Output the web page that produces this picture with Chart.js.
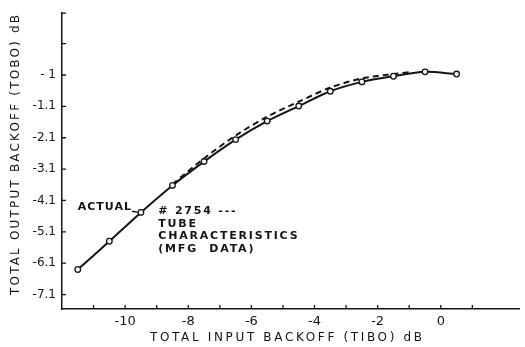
<!DOCTYPE html>
<html>
<head>
<meta charset="utf-8">
<script src="https://cdn.jsdelivr.net/npm/chart.js@4.4.1/dist/chart.umd.min.js"></script>
<style>
  html, body { margin: 0; padding: 0; background: #fff; }
  #wrap { width: 525px; height: 347px; }
</style>
</head>
<body>
<div id="wrap"><canvas id="c"></canvas></div>
<script>
  // TIBO (dB) vs TOBO (dB)
  const actualTibo = [-11.5, -10.5, -9.5, -8.5, -7.5, -6.5, -5.5, -4.5, -3.5, -2.5, -1.5, -0.5, 0.5];
  const actualTobo = [-6.20, -5.30, -4.38, -3.52, -2.76, -2.06, -1.47, -0.99, -0.52, -0.22, -0.04, 0.10, 0.03];

  const tubeTibo = [-8.5, -7.5, -6.5, -5.5, -4.5, -3.5, -2.5, -1.5, -0.9];
  const tubeTobo = [-3.48, -2.66, -1.93, -1.33, -0.85, -0.40, -0.11, 0.03, 0.10];

  const xTickValues = [-11, -10, -9, -8, -7, -6, -5, -4, -3, -2, -1, 0, 1];
  const xTickLabels = ['', '-10', '', '-8', '', '-6', '', '-4', '', '-2', '', '0', ''];
  const yTickValues = [1, 0, -1, -2, -3, -4, -5, -6, -7];
  const yTickLabels = ['', '- 1', '-1.1', '-2.1', '-3.1', '-4.1', '-5.1', '-6.1', '-7.1'];

  const xTitle = 'TOTAL INPUT BACKOFF (TIBO) dB';
  const yTitle = 'TOTAL OUTPUT BACKOFF (TOBO) dB';
  const tubeNote = ['# 2754 ---', 'TUBE', 'CHARACTERISTICS', '(MFG  DATA)'];

  const ink = '#141414';
  const face = '"DejaVu Sans", "Liberation Sans", sans-serif';

  function toPoints(xs, ys) {
    return xs.map((x, i) => ({ x, y: ys[i] }));
  }

  // draw text stretched to a given width by spreading the letters
  function spreadText(ctx, text, left, y, width) {
    ctx.letterSpacing = '0px';
    const w = ctx.measureText(text).width;
    const gap = Math.max(0, (width - w) / (text.length - 1));
    ctx.letterSpacing = `${gap}px`;
    ctx.fillText(text, left, y);
    ctx.letterSpacing = '0px';
  }

  const paperMarks = {
    id: 'paperMarks',
    afterDraw(chart) {
      const { ctx, chartArea: a, scales: { x, y } } = chart;
      ctx.save();

      // inward ticks, like the original drafting
      ctx.strokeStyle = ink;
      ctx.lineWidth = 1.3;
      ctx.beginPath();
      x.ticks.forEach((t) => {
        const px = x.getPixelForValue(t.value);
        ctx.moveTo(px, a.bottom);
        ctx.lineTo(px, a.bottom - 4);
      });
      y.ticks.forEach((t) => {
        const py = y.getPixelForValue(t.value);
        ctx.moveTo(a.left, py);
        ctx.lineTo(a.left + 4, py);
      });
      ctx.moveTo(a.left, a.top);
      ctx.lineTo(a.left + 4, a.top);
      ctx.stroke();

      // axis titles
      ctx.fillStyle = ink;
      ctx.font = `12px ${face}`;
      ctx.textBaseline = 'middle';
      ctx.textAlign = 'left';
      spreadText(ctx, xTitle, 150, 338, 272);

      ctx.save();
      ctx.translate(16, 155);
      ctx.rotate(-Math.PI / 2);
      spreadText(ctx, yTitle, -140, 0, 280);
      ctx.restore();

      // annotations
      ctx.font = `bold 11px ${face}`;
      ctx.letterSpacing = '1px';
      const ax = x.getPixelForValue(-11.5);
      const ay = y.getPixelForValue(-4.2);
      ctx.fillText('ACTUAL', ax, ay);
      const endX = ax + ctx.measureText('ACTUAL').width;
      const px = x.getPixelForValue(actualTibo[2]);
      const py = y.getPixelForValue(actualTobo[2]);
      ctx.beginPath();
      ctx.moveTo(endX, ay + 4.5);
      ctx.lineTo(px - 3, py);
      ctx.stroke();

      ctx.letterSpacing = '1.8px';
      const tx = x.getPixelForValue(-8.95);
      const ty = y.getPixelForValue(-4.34);
      tubeNote.forEach((line, i) => {
        ctx.fillText(line, tx, ty + i * 12.7);
      });
      ctx.letterSpacing = '0px';
      ctx.restore();
    }
  };

  new Chart(document.getElementById('c'), {
    type: 'line',
    data: {
      datasets: [
        {
          label: 'Actual',
          data: toPoints(actualTibo, actualTobo),
          borderColor: ink,
          borderWidth: 2,
          tension: 0.3,
          pointRadius: 2.8,
          pointBackgroundColor: '#fff',
          pointBorderColor: ink,
          pointBorderWidth: 1.3
        },
        {
          label: '#2754 tube characteristics (MFG data)',
          data: toPoints(tubeTibo, tubeTobo),
          borderColor: ink,
          borderWidth: 2,
          borderDash: [6, 4],
          tension: 0.3,
          pointRadius: 0
        }
      ]
    },
    options: {
      responsive: true,
      maintainAspectRatio: false,
      animation: false,
      layout: { padding: { top: 10, right: 3, left: 0, bottom: 0 } },
      plugins: {
        legend: { display: false },
        tooltip: { enabled: false }
      },
      scales: {
        x: {
          type: 'linear',
          min: -12,
          max: 2.5,
          afterBuildTicks: (scale) => {
            scale.ticks = xTickValues.map((value) => ({ value }));
          },
          afterFit: (scale) => {
            scale.height = 38;
          },
          grid: { drawOnChartArea: false, drawTicks: false },
          border: { display: true, color: ink, width: 1.5 },
          ticks: {
            autoSkip: false,
            maxRotation: 0,
            padding: 5,
            color: ink,
            font: { family: face, size: 13 },
            callback: (value, index) => xTickLabels[index]
          }
        },
        y: {
          type: 'linear',
          min: -7.46,
          max: 1.97,
          afterBuildTicks: (scale) => {
            scale.ticks = yTickValues.map((value) => ({ value }));
          },
          afterFit: (scale) => {
            scale.width = 62;
          },
          grid: { drawOnChartArea: false, drawTicks: false },
          border: { display: true, color: ink, width: 1.5 },
          ticks: {
            autoSkip: false,
            padding: 6,
            color: ink,
            font: { family: face, size: 12 },
            callback: (value, index) => yTickLabels[index]
          }
        }
      }
    },
    plugins: [paperMarks]
  });
</script>
</body>
</html>
